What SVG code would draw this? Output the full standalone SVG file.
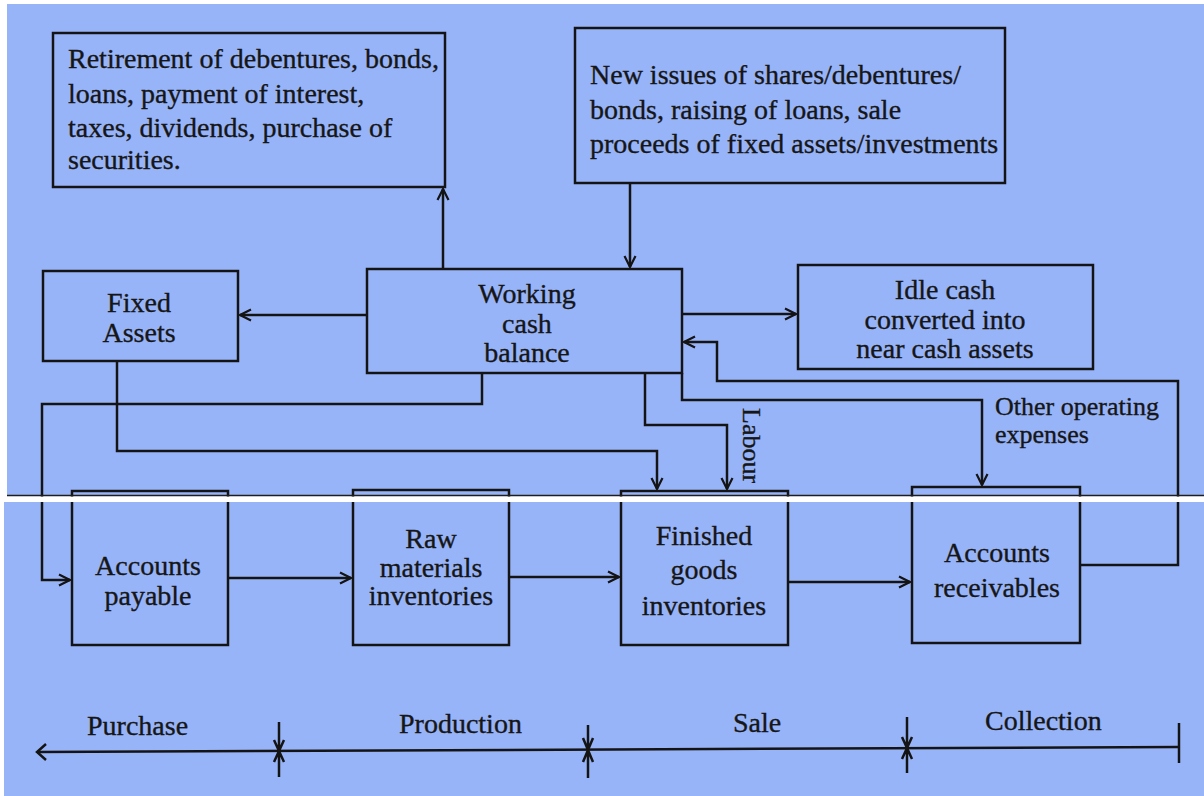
<svg xmlns="http://www.w3.org/2000/svg" width="1204" height="796" viewBox="0 0 1204 796">
<style>
.bx{fill:none;stroke:#141414;stroke-width:2.5}
.ln{fill:none;stroke:#141414;stroke-width:2.5}
.t{font-family:"Liberation Serif","Times New Roman",serif;font-size:28px;fill:#161616;stroke:#161616;stroke-width:0.35}
.c{text-anchor:middle}
.s{font-size:26px}
</style>
<defs>
<marker id="ah" viewBox="0 0 14 14" refX="13" refY="7" markerWidth="14" markerHeight="14" markerUnits="userSpaceOnUse" orient="auto">
<path d="M2,1.5 L13,7 L2,12.5" fill="none" stroke="#141414" stroke-width="2.2"/>
</marker>
</defs>
<rect x="0" y="0" width="1204" height="796" fill="#ffffff"/>
<rect x="7" y="4" width="1197" height="492" fill="#98b4f9"/>
<rect x="4" y="502" width="1200" height="294" fill="#98b4f9"/>

<g id="connectors">
<path class="ln" d="M630,183 V267" marker-end="url(#ah)"/>
<path class="ln" d="M443,269 V189" marker-end="url(#ah)"/>
<path class="ln" d="M367,315 H240" marker-end="url(#ah)"/>
<path class="ln" d="M682,314 H796" marker-end="url(#ah)"/>
<path class="ln" d="M1080,565 H1178 V381 H717 V342 H684" marker-end="url(#ah)"/>
<path class="ln" d="M682,373 V400 H982 V485" marker-end="url(#ah)"/>
<path class="ln" d="M645,373 V425 H727 V489" marker-end="url(#ah)"/>
<path class="ln" d="M117,361 V451 H657 V489" marker-end="url(#ah)"/>
<path class="ln" d="M482,373 V404 H42 V580 H70" marker-end="url(#ah)"/>
<path class="ln" d="M228,578 H351" marker-end="url(#ah)"/>
<path class="ln" d="M509,577 H619" marker-end="url(#ah)"/>
<path class="ln" d="M788,582 H910" marker-end="url(#ah)"/>
</g>

<g id="retirement">
<rect class="bx" x="53" y="33" width="392" height="154"/>
<text class="t" x="68" y="68">Retirement of debentures, bonds,</text>
<text class="t" x="68" y="103">loans, payment of interest,</text>
<text class="t" x="68" y="137">taxes, dividends, purchase of</text>
<text class="t" x="68" y="169">securities.</text>
</g>

<g id="new-issues">
<rect class="bx" x="575" y="28" width="430" height="155"/>
<text class="t" x="590" y="84">New issues of shares/debentures/</text>
<text class="t" x="590" y="119">bonds, raising of loans, sale</text>
<text class="t" x="590" y="153">proceeds of fixed assets/investments</text>
</g>

<g id="working-cash">
<rect class="bx" x="367" y="269" width="315" height="104"/>
<text class="t c" x="527" y="303">Working</text>
<text class="t c" x="527" y="333">cash</text>
<text class="t c" x="527" y="362">balance</text>
</g>

<g id="fixed-assets">
<rect class="bx" x="43" y="271" width="195" height="90"/>
<text class="t c" x="139" y="312">Fixed</text>
<text class="t c" x="139" y="342">Assets</text>
</g>

<g id="idle-cash">
<rect class="bx" x="798" y="265" width="295" height="104"/>
<text class="t c" x="945" y="299">Idle cash</text>
<text class="t c" x="945" y="329">converted into</text>
<text class="t c" x="945" y="358">near cash assets</text>
</g>

<g id="other-operating-label">
<text class="t s" x="995" y="415">Other operating</text>
<text class="t s" x="995" y="443">expenses</text>
</g>

<g id="labour-label">
<text class="t s" transform="translate(743,408) rotate(90)">Labour</text>
</g>

<g id="accounts-payable">
<rect class="bx" x="72" y="491" width="156" height="154"/>
<text class="t c" x="148" y="575">Accounts</text>
<text class="t c" x="148" y="605">payable</text>
</g>

<g id="raw-materials">
<rect class="bx" x="353" y="490" width="156" height="155"/>
<text class="t c" x="431" y="548">Raw</text>
<text class="t c" x="431" y="577">materials</text>
<text class="t c" x="431" y="605">inventories</text>
</g>

<g id="finished-goods">
<rect class="bx" x="621" y="491" width="167" height="154"/>
<text class="t c" x="704" y="545">Finished</text>
<text class="t c" x="704" y="579">goods</text>
<text class="t c" x="704" y="615">inventories</text>
</g>

<g id="accounts-receivables">
<rect class="bx" x="912" y="487" width="168" height="156"/>
<text class="t c" x="997" y="562">Accounts</text>
<text class="t c" x="997" y="597">receivables</text>
</g>

<g id="timeline">
<path class="ln" d="M37,752 L1179,747"/>
<path class="ln" d="M46,744 L37,752 L46,760"/>
<path class="ln" d="M1179,723 V763"/>
<path class="ln" d="M279,722 V777 M274,740 L279,751 L284,740 M274,762 L279,751 L284,762"/>
<path class="ln" d="M588,725 V778 M583,738 L588,750 L593,738 M583,762 L588,750 L593,762"/>
<path class="ln" d="M907,717 V773 M902,737 L907,748 L912,737 M902,759 L907,748 L912,759"/>
<text class="t" x="87" y="735">Purchase</text>
<text class="t" x="399" y="733">Production</text>
<text class="t" x="733" y="732">Sale</text>
<text class="t" x="985" y="730">Collection</text>
</g>

<rect x="0" y="496.5" width="1204" height="5.5" fill="#ffffff"/>
<line x1="7" y1="495.5" x2="1204" y2="495.5" stroke="#1e1e1e" stroke-width="1.6"/>
</svg>
